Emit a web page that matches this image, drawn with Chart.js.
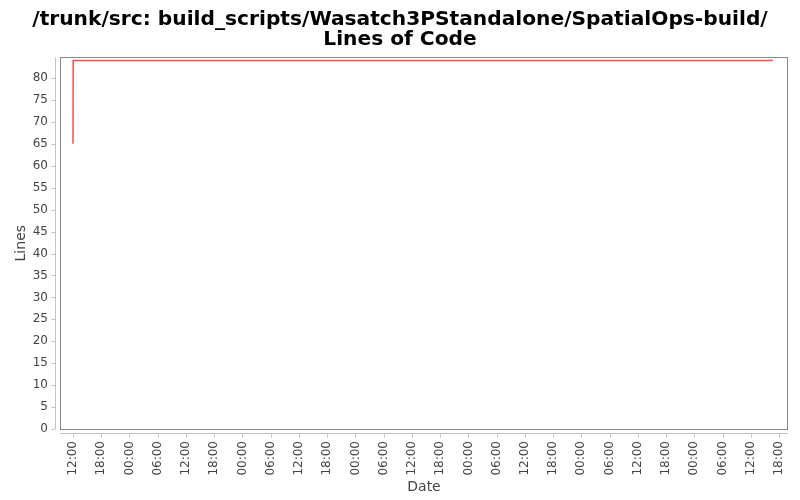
<!DOCTYPE html>
<html>
<head>
<meta charset="utf-8">
<script src="https://cdn.jsdelivr.net/npm/chart.js@4/dist/chart.umd.min.js"></script>
<style>
html,body{margin:0;padding:0;background:#fff;}
#wrap{width:800px;height:500px;position:relative;}
</style>
</head>
<body>
<div id="wrap"><canvas id="c" width="800" height="500"></canvas></div>
<script>
// Hours since 12:00 on the first day
const hours = [0, 0.05, 148.7];
const lines = [65, 84, 84];
const titleLines = ["/trunk/src: build_scripts/Wasatch3PStandalone/SpatialOps-build/", "Lines of Code"];
const xAxisTitle = "Date";
const yAxisTitle = "Lines";
const startHourOfDay = 12;

const points = hours.map((h, i) => ({x: h, y: lines[i]}));

const axisPlugin = {
  id: 'jfreeAxes',
  afterDraw(chart) {
    const ctx = chart.ctx, a = chart.chartArea;
    const xs = chart.scales.x, ys = chart.scales.y;
    ctx.save();
    ctx.strokeStyle = '#888888';
    ctx.lineWidth = 1;
    ctx.strokeRect(Math.round(a.left) + 0.5, Math.round(a.top) + 0.5, Math.round(a.right - a.left) - 1, Math.round(a.bottom - a.top));
    ctx.strokeStyle = '#c4c4c4';
    ctx.beginPath();
    const lx = Math.round(a.left) - 4.5;
    ctx.moveTo(lx, a.top); ctx.lineTo(lx, a.bottom);
    ys.ticks.forEach(t => {
      const y = Math.round(ys.getPixelForValue(t.value)) + 0.5;
      ctx.moveTo(lx - 4, y); ctx.lineTo(lx, y);
    });
    const by = Math.round(a.bottom) + 4.5;
    ctx.moveTo(a.left, by); ctx.lineTo(a.right, by);
    xs.ticks.forEach(t => {
      const x = Math.round(xs.getPixelForValue(t.value)) + 0.5;
      ctx.moveTo(x, by); ctx.lineTo(x, by + 4);
    });
    ctx.stroke();
    ctx.restore();
  }
};

new Chart(document.getElementById('c'), {
  type: 'line',
  data: {
    datasets: [{
      data: points,
      borderColor: '#f25050',
      borderWidth: 1.5,
      pointRadius: 0,
      tension: 0,
      fill: false
    }]
  },
  options: {
    responsive: false,
    animation: false,
    layout: {padding: {left: 12, right: 12, top: 0, bottom: 0}},
    plugins: {
      legend: {display: false},
      tooltip: {enabled: false},
      title: {
        display: true,
        text: titleLines,
        color: '#000',
        font: {family: 'DejaVu Sans', size: 20.2, weight: 'bold', lineHeight: 1.0},
        padding: {top: 9.5, bottom: 7.5}
      }
    },
    scales: {
      x: {
        type: 'linear',
        min: -2.76,
        max: 151.9,
        afterBuildTicks(s) {
          const t = [];
          for (let v = 0; v <= s.max; v += 6) t.push({value: v});
          s.ticks = t;
        },
        afterFit(s) { s.height = 71; },
        ticks: {
          minRotation: 90, maxRotation: 90, autoSkip: false,
          padding: 4,
          color: '#444',
          font: {family: 'DejaVu Sans', size: 12},
          callback: v => {
            const h = ((startHourOfDay + v) % 24 + 24) % 24;
            return String(h).padStart(2, '0') + ':00';
          }
        },
        grid: {display: false},
        border: {display: false},
        title: {display: true, text: xAxisTitle, color: '#444', font: {family: 'DejaVu Sans', size: 14}, padding: {top: 0, bottom: 4}}
      },
      y: {
        min: 0,
        max: 84.7,
        afterBuildTicks(s) {
          const t = [];
          for (let v = 0; v <= s.max; v += 5) t.push({value: v});
          s.ticks = t;
        },
        afterFit(s) { s.width = 48; },
        ticks: {
          padding: 4,
          color: '#444',
          font: {family: 'DejaVu Sans', size: 12}
        },
        grid: {display: false},
        border: {display: false},
        title: {display: true, text: yAxisTitle, color: '#444', font: {family: 'DejaVu Sans', size: 14}, padding: {top: 1, bottom: 0}}
      }
    }
  },
  plugins: [axisPlugin]
});
</script>
</body>
</html>
